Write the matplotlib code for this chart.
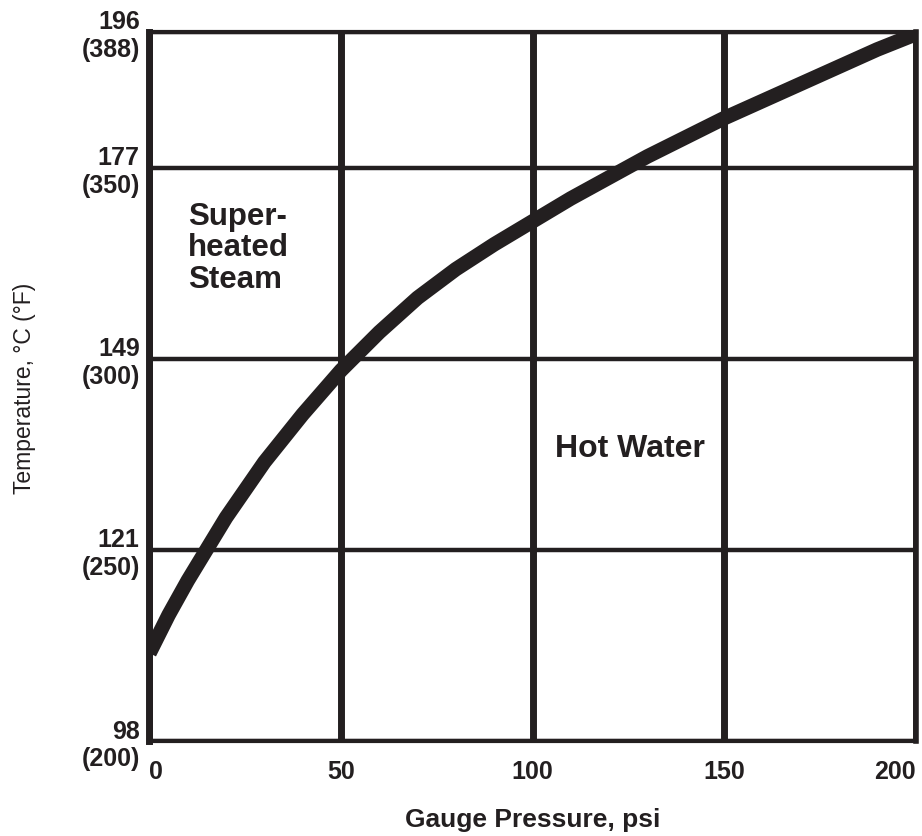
import matplotlib.pyplot as plt
import numpy as np

plt.rcParams['font.family'] = ['Liberation Sans', 'DejaVu Sans']

INK = '#231f20'

# saturation curve, gauge pressure (psi) vs temperature (deg F)
pressure = [0, 5, 10, 20, 30, 40, 50, 60, 70, 80, 90, 100,
            110, 120, 130, 140, 150, 160, 170, 180, 190, 200]
temperature = [223, 233, 242, 258.5, 273, 285.5, 297, 307, 316, 323.5, 330, 336,
               342, 347.5, 353, 358, 363, 367.5, 372, 376.5, 381, 385]

x_ticks = [0, 50, 100, 150, 200]
x_labels = ['0', '50', '100', '150', '200']
y_ticks = [200, 250, 300, 350, 385.7]
y_labels = ['98\n(200)', '121\n(250)', '149\n(300)', '177\n(350)', '196\n(388)']

fig = plt.figure(figsize=(9.22, 8.36), dpi=100)
ax = fig.add_axes([0.1621, 0.1136, 0.8309, 0.8487])

ax.plot(pressure, temperature, color=INK, linewidth=10.5,
        solid_capstyle='butt', solid_joinstyle='round', zorder=3)

ax.set_xlim(0, 200)
ax.set_ylim(200, 385.7)
ax.set_xticks(x_ticks, x_labels)
ax.set_yticks(y_ticks, y_labels)

# heavy vertical rules, lighter horizontal ones
ax.grid(axis='x', color=INK, linewidth=5)
ax.grid(axis='y', color=INK, linewidth=3.2)
ax.set_axisbelow(True)

ax.spines['left'].set_linewidth(5)
ax.spines['right'].set_linewidth(4)
ax.spines['top'].set_linewidth(3)
ax.spines['bottom'].set_linewidth(3)
for s in ax.spines.values():
    s.set_color(INK)
    s.set_zorder(4)

ax.tick_params(length=0, colors=INK)
ax.tick_params(axis='x', pad=14, labelsize=18)
ax.tick_params(axis='y', pad=7, labelsize=18)
for lbl in ax.get_xticklabels() + ax.get_yticklabels():
    lbl.set_fontweight('bold')
for lbl in ax.get_yticklabels():
    lbl.set_multialignment('right')
xl = ax.get_xticklabels()
xl[0].set_horizontalalignment('left')
xl[-1].set_horizontalalignment('right')

ax.set_xlabel('Gauge Pressure, psi', fontsize=19, fontweight='bold', color=INK)
ax.xaxis.set_label_coords(0.5, -0.094)
ax.set_ylabel('Temperature, °C (°F)', fontsize=16.5, color=INK)
ax.yaxis.set_label_coords(-0.148, 0.497)

ax.text(10, 341, 'Super-\nheated\nSteam', fontsize=22.5, fontweight='bold',
        color=INK, va='top', ha='left', linespacing=1.05)
ax.text(106, 274.3, 'Hot Water', fontsize=23, fontweight='bold',
        color=INK, va='baseline', ha='left')

fig.savefig('out.png', dpi=100)
